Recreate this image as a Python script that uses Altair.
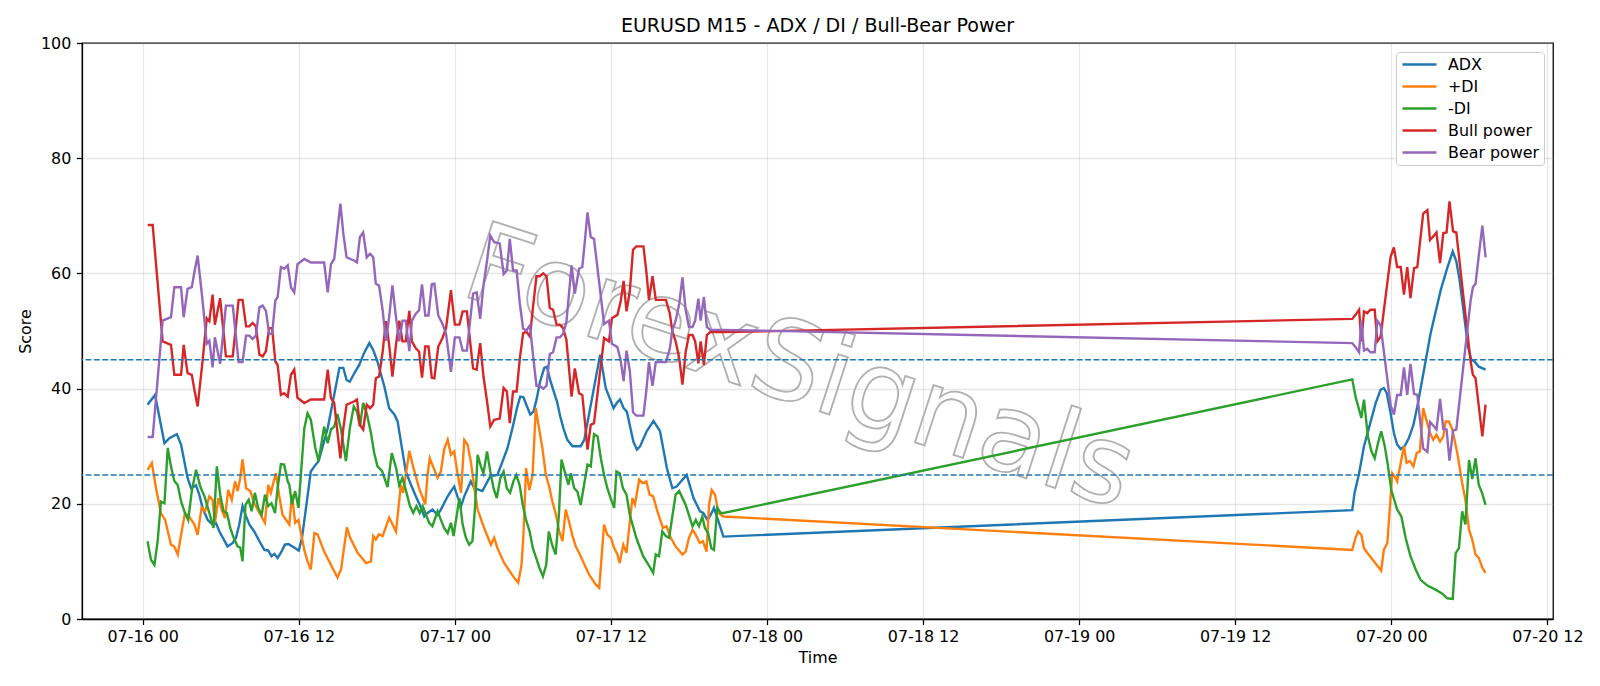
import altair as alt
import pandas as pd

BASE = pd.Timestamp("2025-07-16 00:00")
SERIES = ["ADX", "+DI", "-DI", "Bull power", "Bear power"]
COLORS = ["#1f77b4", "#ff7f0e", "#2ca02c", "#d62728", "#9467bd"]
LEVELS = [25, 45]
TITLE = "EURUSD M15 - ADX / DI / Bull-Bear Power"
WATERMARK = "ForexSignals"

# positions are in 15-minute bars counted from 07-16 00:00
adx_q = [1.5, 3.8, 6.7, 8.2, 10.5, 11.8, 12.8, 13.8, 14.9, 16.4, 17.4, 18.4, 20.0, 21.5, 22.5, 23.6, 26.1, 27.7, 28.7, 29.7,
         30.7, 31.8, 32.8, 34.3, 35.9, 37.4, 38.6, 39.6, 40.5, 41.5, 42.5, 43.7, 44.8, 46.1, 48.0, 49.0, 51.7, 52.8, 54.1, 56.9,
         60.5, 61.7, 62.7, 63.7, 65.1, 66.6, 68.1, 69.7, 70.9, 72.2, 74.3, 75.8, 77.4, 78.4, 79.4, 80.9, 82.5, 84.0, 85.6, 86.6,
         87.6, 89.1, 90.7, 91.7, 93.8, 94.8, 95.8, 96.8, 97.9, 98.9, 100.9, 102.0, 104.5, 105.5, 106.9, 109.1, 110.7, 112.2, 113.7, 115.1,
         116.1, 117.1, 118.2, 119.2, 120.2, 121.2, 122.2, 123.5, 124.3, 125.3, 126.4, 127.4, 128.4, 129.4, 130.6, 132.2, 134.7, 135.8, 140.7, 142.4,
         144.8, 145.8, 146.8, 147.9, 148.9, 150.9, 152.0, 153.0, 155.0, 157.1, 159.1, 161.2, 162.9, 164.2, 167.3, 169.4, 171.4, 172.4, 173.7, 174.7,
         175.7, 178.6,
         372.0, 372.7, 374.1, 375.6, 377.1, 379.2, 380.7, 381.7, 382.6, 383.8, 384.8, 385.8, 386.9, 388.1, 389.4, 390.8, 392.0, 393.5, 396.1, 399.2,
         401.2, 402.9, 404.0, 405.0, 406.3, 407.6, 408.6, 409.6, 410.9, 413.0]
adx_v = [37.2, 38.9, 30.5, 31.4, 32.1, 30.3, 27.4, 24.5, 22.7, 23.2, 21.6, 19.3, 17.2, 16.4, 16.7, 15.2, 12.6, 13.2, 14.1, 16.4,
         19.6, 17.8, 16.4, 15.2, 13.5, 12.0, 11.9, 10.9, 11.3, 10.6, 11.5, 12.9, 13.0, 12.6, 11.9, 14.1, 25.6, 26.5, 27.4, 33.1,
         43.6, 43.6, 41.5, 41.2, 42.7, 44.1, 46.2, 47.9, 46.7, 44.7, 40.4, 36.6, 35.5, 34.3, 30.8, 25.6, 23.3, 21.3, 19.3, 17.8,
         18.4, 19.0, 18.1, 19.0, 21.3, 22.2, 23.0, 21.3, 19.6, 21.3, 23.9, 22.7, 22.2, 23.3, 24.8, 25.0, 27.4, 29.7, 33.1, 36.6,
         38.6, 38.5, 36.9, 35.5, 36.0, 38.3, 41.2, 43.6, 43.8, 41.5, 39.5, 37.8, 35.2, 33.1, 31.1, 30.0, 30.0, 31.1, 45.9, 40.1,
         36.6, 37.5, 38.1, 36.6, 36.0, 30.8, 29.4, 30.0, 32.6, 34.4, 32.6, 26.2, 22.7, 23.0, 25.0, 21.0, 18.7, 18.4, 17.2, 18.1,
         19.3, 14.3,
         18.9, 21.9, 25.3, 30.0, 33.1, 37.5, 39.8, 40.1, 39.2, 35.7, 32.3, 30.3, 29.5, 30.0, 31.4, 33.7, 36.9, 41.5, 49.6, 57.1,
         60.9, 63.8, 62.1, 58.9, 53.1, 47.3, 45.0, 44.7, 43.8, 43.3]

pdi_q = [1.5, 2.8, 4.1, 5.6, 6.9, 8.7, 9.7, 10.8, 11.8, 13.0, 14.3, 15.9, 16.9, 18.1, 19.2, 20.5, 21.5, 22.2, 23.3, 24.3,
         25.3, 26.3, 27.4, 28.4, 29.2, 30.0, 30.7, 31.8, 33.1, 34.3, 35.9, 37.6, 38.6, 39.4, 40.3, 41.0, 42.0, 43.0, 45.1, 45.9,
         46.9, 47.9, 49.7, 50.7, 51.7, 52.8, 53.8, 55.8, 57.9, 59.9, 61.0, 62.8, 63.8, 66.1, 68.7, 70.2, 70.9, 71.7, 72.7, 73.8,
         75.8, 77.9, 79.4, 80.1, 82.0, 83.0, 85.0, 86.9, 87.6, 88.3, 89.7, 90.7, 91.7, 92.7, 93.8, 94.8, 95.8, 96.8, 97.9, 98.9,
         99.9, 100.9, 102.0, 103.0, 105.0, 107.1, 108.1, 109.1, 111.2, 114.3, 115.5, 116.5, 117.1, 117.9, 118.9, 119.9, 120.9, 121.9, 122.9, 124.0,
         125.0, 126.0, 127.1, 128.1, 129.1, 130.1, 131.2, 132.2, 133.2, 134.2, 137.3, 139.3, 140.4, 141.9, 142.9, 144.0, 145.0, 146.0, 146.7, 147.8,
         148.8, 150.6, 151.4, 152.7, 153.7, 154.9, 155.9, 157.0, 158.3, 160.0, 161.1, 162.4, 163.9, 166.0, 167.0, 168.0, 169.1, 170.1, 171.3, 172.3,
         173.4, 174.2, 175.0, 176.0, 177.1, 178.6,
         372.0, 373.0, 373.8, 374.8, 375.6, 376.6, 378.7, 380.9, 381.7, 382.8, 384.3, 385.0, 385.8, 386.9, 387.9, 388.7, 389.7, 390.8, 391.8, 392.8,
         393.8, 394.9, 395.9, 396.9, 397.9, 399.0, 400.0, 400.7, 401.7, 402.8, 404.3, 405.8, 406.8, 407.9, 408.9, 409.9, 410.9, 412.0, 413.0]
pdi_v = [25.9, 27.1, 22.7, 18.4, 17.2, 12.9, 12.6, 11.2, 14.6, 18.4, 17.8, 16.4, 14.6, 19.3, 18.7, 21.3, 20.7, 16.7, 21.0, 19.0,
         17.5, 22.4, 20.7, 23.9, 22.2, 24.5, 27.7, 22.7, 22.2, 20.1, 18.4, 16.7, 23.3, 21.9, 23.9, 25.3, 21.3, 18.1, 16.4, 21.6,
         16.7, 17.2, 12.0, 10.0, 8.6, 14.9, 14.7, 11.7, 9.4, 7.2, 8.6, 15.9, 14.1, 11.5, 9.7, 10.0, 14.4, 13.8, 14.7, 14.4,
         17.6, 15.2, 23.3, 21.9, 29.2, 26.8, 22.7, 19.9, 25.0, 27.9, 25.9, 24.5, 25.6, 29.4, 31.1, 28.5, 29.1, 25.3, 21.9, 31.1,
         30.3, 27.4, 22.7, 19.0, 15.8, 12.9, 14.1, 12.3, 9.7, 7.1, 6.3, 9.4, 14.6, 26.2, 22.4, 25.0, 36.6, 33.1, 29.7, 25.0,
         23.0, 20.4, 18.1, 15.2, 13.5, 19.0, 16.7, 14.4, 12.6, 11.5, 7.7, 6.0, 5.4, 16.4, 14.6, 14.1, 12.3, 11.2, 9.7, 12.9,
         11.5, 21.0, 19.9, 24.2, 23.6, 23.9, 21.6, 21.3, 18.7, 15.8, 16.1, 14.1, 12.6, 11.2, 11.7, 14.1, 15.5, 14.6, 13.2, 13.5,
         11.7, 19.9, 22.4, 21.6, 18.4, 17.8,
         12.0, 14.1, 15.2, 14.6, 12.3, 11.5, 10.0, 8.4, 12.0, 13.2, 25.3, 24.8, 23.9, 27.1, 30.0, 27.1, 27.4, 26.5, 28.8, 29.1,
         36.6, 34.3, 32.3, 31.1, 32.0, 30.8, 31.7, 34.3, 34.3, 32.9, 28.8, 23.6, 20.7, 15.5, 13.8, 11.2, 10.6, 8.9, 8.0]

mdi_q = [1.5, 2.55, 3.6, 4.6, 5.6, 6.7, 7.7, 8.7, 9.7, 10.8, 11.8, 13.0, 14.0, 15.1, 16.4, 17.7, 19.0, 20.5, 21.8, 22.8,
         23.9, 24.9, 25.9, 27.0, 28.0, 29.2, 30.0, 30.7, 31.6, 32.6, 33.5, 34.5, 35.5, 36.6, 37.6, 38.6, 39.6, 40.7, 41.5, 42.5,
         43.5, 44.6, 45.1, 45.9, 46.9, 47.9, 49.7, 50.7, 51.7, 53.1, 54.1, 55.8, 56.9, 57.9, 58.9, 59.9, 61.0, 62.5, 63.7, 64.9,
         65.9, 66.8, 67.8, 68.9, 70.2, 71.2, 72.2, 73.6, 75.3, 76.6, 77.9, 78.9, 79.9, 81.0, 82.2, 83.2, 84.2, 85.2, 86.1, 87.1,
         88.1, 89.1, 90.7, 91.7, 92.7, 93.8, 94.8, 95.6, 97.4, 98.4, 99.4, 100.4, 101.4, 102.2, 103.0, 104.0, 104.8, 105.9, 106.9, 107.9,
         108.9, 110.0, 111.0, 112.0, 113.0, 114.0, 114.9, 115.9, 116.9, 117.9, 119.0, 120.0, 121.0, 122.0, 123.1, 124.1, 124.9, 125.9, 127.0, 128.0,
         128.8, 129.8, 130.9, 131.7, 132.7, 133.7, 134.7, 136.8, 137.8, 138.8, 139.9, 140.9, 141.9, 142.9, 143.9, 145.0, 145.7, 146.7, 147.7, 148.8,
         149.8, 151.8, 153.9, 155.9, 157.0, 157.8, 158.8, 159.8, 160.9, 161.9, 163.9, 165.0, 167.0, 169.1, 170.1, 171.1, 172.1, 172.9, 173.9, 174.9,
         175.7, 176.7, 177.8, 178.6,
         372.0, 373.0, 374.8, 375.6, 376.8, 377.9, 378.9, 379.9, 380.9, 382.0, 383.0, 384.0, 385.8, 387.1, 388.4, 389.9, 391.5, 393.0, 395.1, 397.6,
         399.7, 401.2, 402.9, 403.8, 404.8, 405.8, 406.8, 407.9, 408.9, 409.9, 410.9, 411.9, 413.0]
mdi_v = [13.5, 10.3, 9.4, 13.5, 20.4, 20.1, 29.7, 26.5, 24.0, 23.2, 20.4, 18.4, 17.2, 22.2, 25.9, 23.0, 21.3, 18.4, 15.8, 26.5,
         21.3, 18.7, 18.4, 15.7, 14.1, 12.6, 12.4, 10.0, 19.8, 20.7, 18.7, 21.9, 19.3, 18.1, 21.6, 19.6, 20.1, 18.4, 22.7, 26.9,
         26.8, 23.9, 23.3, 19.9, 22.2, 19.3, 33.1, 35.7, 34.6, 29.7, 27.4, 33.4, 30.5, 32.9, 33.4, 35.6, 32.9, 27.4, 33.1, 36.9,
         36.0, 33.4, 37.5, 35.7, 32.3, 28.8, 26.5, 25.7, 22.9, 28.8, 26.3, 23.2, 24.5, 22.2, 19.6, 18.4, 19.6, 18.4, 19.6, 18.1,
         16.7, 16.1, 18.7, 17.2, 15.8, 14.9, 16.7, 14.4, 21.0, 16.4, 14.1, 12.9, 13.5, 19.3, 28.5, 26.5, 25.3, 29.1, 25.6, 22.7,
         21.0, 24.5, 25.6, 22.7, 21.9, 23.9, 25.0, 23.3, 19.8, 17.2, 15.2, 12.3, 10.6, 8.9, 7.4, 9.4, 15.2, 12.9, 11.2, 18.1,
         27.7, 25.6, 23.3, 25.3, 22.7, 22.1, 19.8, 26.8, 26.5, 32.1, 31.7, 27.9, 25.0, 22.7, 21.0, 19.3, 25.6, 25.3, 22.7, 21.6,
         18.1, 14.1, 10.9, 9.1, 8.0, 11.2, 10.9, 15.2, 14.4, 14.1, 21.6, 22.2, 19.8, 16.1, 17.2, 16.1, 17.8, 15.8, 14.9, 12.3,
         12.0, 19.3, 18.4, 18.4,
         41.6, 38.6, 34.9, 38.1, 31.7, 29.1, 27.9, 30.5, 32.6, 30.0, 26.5, 22.4, 19.0, 17.8, 14.1, 10.9, 8.6, 6.8, 5.8, 5.1,
         4.4, 3.6, 3.5, 11.4, 12.3, 18.7, 16.4, 27.6, 24.3, 27.9, 23.3, 21.9, 19.8]

power_q = [1.53, 3.07, 6.14, 8.7, 9.73, 11.8, 12.6, 13.8, 15.1, 15.9, 16.9, 18.4, 19.7, 20.5, 21.5, 22.2, 23.8, 25.6, 27.7, 29.5,
           30.7, 31.8, 32.8, 33.8, 34.8, 35.9, 36.9, 37.9, 38.9, 39.8, 40.8, 41.5, 42.5, 43.5, 44.6, 45.6,
           46.6, 47.6, 49.7, 51.7, 55.8, 56.9, 57.9, 58.9, 60.8, 61.7, 62.7, 65.1, 65.9, 66.8, 67.8, 68.9, 69.9, 70.9, 71.7, 72.7,
           73.8, 74.8, 75.8, 76.8, 77.9, 78.9, 79.9, 80.9, 82.0, 82.8, 84.0, 85.0, 85.9, 86.9, 87.9, 88.9,
           89.7, 90.9, 92.2, 93.3, 94.8, 96.0, 97.4, 98.4, 99.7, 100.7, 101.6, 102.7, 103.8, 104.8, 105.9, 106.9, 108.1, 109.8, 111.0, 112.0,
           112.9, 113.9, 115.0, 116.0, 117.0, 118.0, 119.1, 120.1, 121.1, 122.1, 123.2, 124.2, 125.2, 126.2, 127.3, 128.3, 129.3, 130.3, 131.9, 132.9,
           134.2, 135.2, 136.0, 136.8, 137.8, 138.8, 141.9, 143.4, 144.3, 146.0, 147.0, 147.9, 148.8, 149.8, 150.8, 151.8, 154.0, 154.9, 155.7, 156.8,
           157.8, 160.9, 162.1, 162.9, 163.9, 165.0, 166.0, 167.0, 168.0, 169.1, 169.9, 170.9, 171.6, 172.6, 173.5, 174.5, 178.6,
           372.0, 373.0, 374.1, 374.8, 375.6, 376.6, 377.6, 378.9, 379.7, 380.7, 383.8, 384.8, 385.8, 386.9, 387.9, 388.9, 389.9, 391.0, 392.0, 393.8,
           395.1, 395.9, 396.9, 397.9, 399.0, 400.0, 401.0, 401.9, 403.0, 404.0, 408.4, 409.1, 409.9, 412.0, 413.0]
bull_v = [68.4, 68.4, 48.2, 47.6, 42.4, 42.4, 47.6, 42.7, 42.4, 39.8, 36.9, 44.7, 52.2, 51.7, 56.3, 51.1, 55.7, 45.6, 45.6, 55.4,
          55.4, 50.8, 50.8, 51.4, 50.8, 45.9, 45.6, 46.5, 50.5, 50.5, 44.7, 44.1, 38.9, 39.2, 38.6, 42.4,
          43.3, 38.4, 37.5, 38.1, 38.1, 43.3, 38.4, 37.5, 27.9, 33.1, 37.2, 37.8, 38.1, 33.7, 32.9, 37.2, 36.6, 37.2, 41.8, 42.1,
          46.4, 51.7, 47.6, 42.1, 47.6, 51.8, 48.2, 48.2, 53.5, 48.2, 47.0, 46.4, 41.9, 47.3, 47.3, 41.9,
          41.8, 47.3, 48.8, 50.5, 57.1, 51.1, 51.1, 53.4, 53.4, 48.2, 43.5, 43.3, 47.9, 42.1, 37.8, 33.4, 34.6, 34.8, 40.1, 39.5,
          34.0, 39.5, 39.5, 45.3, 49.6, 49.9, 49.0, 54.5, 59.5, 59.5, 60.0, 59.5, 54.0, 53.7, 51.1, 51.1, 50.5, 48.5, 38.6, 43.5,
          39.2, 38.9, 34.3, 29.4, 33.7, 34.0, 48.8, 48.2, 52.2, 52.8, 55.1, 58.7, 53.4, 56.9, 64.1, 64.7, 64.7, 60.3, 55.4, 59.5,
          55.4, 55.4, 53.1, 49.9, 48.2, 45.3, 40.7, 46.4, 49.3, 49.3, 48.2, 44.4, 48.2, 44.1, 49.3, 49.8, 49.8,
          52.1, 52.8, 53.7, 48.2, 53.4, 53.1, 53.7, 53.7, 48.2, 49.0, 62.9, 64.5, 61.1, 61.1, 56.3, 61.1, 55.7, 60.9, 61.1, 70.4,
          71.0, 65.8, 66.4, 67.1, 61.8, 67.0, 67.1, 72.5, 67.3, 67.1, 44.7, 42.4, 41.8, 31.7, 37.2]
bear_v = [31.6, 31.6, 51.8, 52.4, 57.6, 57.6, 52.4, 57.3, 57.6, 60.2, 63.1, 55.3, 47.8, 48.3, 43.7, 48.9, 44.3, 54.4, 54.4, 44.6,
          44.6, 49.2, 49.2, 48.6, 49.2, 54.1, 54.4, 53.5, 49.5, 49.5, 55.3, 55.9, 61.1, 60.8, 61.4, 57.6,
          56.7, 61.6, 62.5, 61.9, 61.9, 56.7, 61.6, 62.5, 72.1, 66.9, 62.8, 62.2, 61.9, 66.3, 67.1, 62.8, 63.4, 62.8, 58.2, 57.9,
          53.6, 48.3, 52.4, 57.9, 52.4, 48.2, 51.8, 51.8, 46.5, 51.8, 53.0, 53.6, 58.1, 52.7, 52.7, 58.1,
          58.2, 52.7, 51.2, 49.5, 42.9, 48.9, 48.9, 46.6, 46.6, 51.8, 56.5, 56.7, 52.1, 57.9, 62.2, 66.6, 65.4, 65.2, 59.9, 60.5,
          66.0, 60.5, 60.5, 54.7, 50.4, 50.1, 51.0, 45.5, 40.5, 40.5, 40.0, 40.5, 46.0, 46.3, 48.9, 48.9, 49.5, 51.5, 61.4, 56.5,
          60.8, 61.1, 65.7, 70.6, 66.3, 66.0, 51.2, 51.8, 47.8, 47.2, 44.9, 41.3, 46.6, 43.1, 35.9, 35.3, 35.3, 39.7, 44.6, 40.5,
          44.6, 44.6, 46.9, 50.1, 51.8, 54.7, 59.3, 53.6, 50.7, 50.7, 51.8, 55.6, 51.8, 55.9, 50.7, 50.2, 50.2,
          47.9, 47.2, 46.3, 51.8, 46.6, 46.9, 46.3, 46.3, 51.8, 51.0, 37.1, 35.5, 38.9, 38.9, 43.7, 38.9, 44.3, 39.1, 38.9, 29.6,
          29.0, 34.2, 33.6, 32.9, 38.2, 33.0, 32.9, 27.5, 32.7, 32.9, 55.3, 57.6, 58.2, 68.3, 62.8]


def frame(name, q, v):
    times = BASE + pd.to_timedelta([x * 15.0 for x in q], unit="min")
    return pd.DataFrame({"time": times, "value": v, "series": name})


df = pd.concat([
    frame("ADX", adx_q, adx_v),
    frame("+DI", pdi_q, pdi_v),
    frame("-DI", mdi_q, mdi_v),
    frame("Bull power", power_q, bull_v),
    frame("Bear power", power_q, bear_v),
], ignore_index=True)

tick_values = [alt.DateTime(year=2025, month=7, date=d, hours=h)
               for d in [16, 17, 18, 19, 20] for h in [0, 12]]
x_domain = [alt.DateTime(year=2025, month=7, date=15, hours=19, minutes=20),
            alt.DateTime(year=2025, month=7, date=20, hours=12, minutes=26)]

FS = 15.9

x_enc = alt.X("time:T", title="Time",
              scale=alt.Scale(domain=x_domain),
              axis=alt.Axis(values=tick_values, format="%m-%d %H", labelAngle=0,
                            grid=True, labelPadding=4.3, titlePadding=4.4))
y_enc = alt.Y("value:Q", title="Score",
              scale=alt.Scale(domain=[0, 100], nice=False, zero=True),
              axis=alt.Axis(values=[0, 20, 40, 60, 80, 100], grid=True,
                            labelPadding=5.6, titlePadding=7))

watermark = alt.Chart(pd.DataFrame({"t": [WATERMARK]})).mark_text(
    font="DejaVu Sans", fontSize=110, angle=18, align="center", baseline="middle",
    fill="transparent", stroke="#b0b0b0", strokeWidth=1.8
).encode(text="t:N", x=alt.value(717), y=alt.value(327))

lines = alt.Chart(df).mark_line(strokeWidth=2.4, clip=True).encode(
    x=x_enc,
    y=y_enc,
    color=alt.Color("series:N",
                    scale=alt.Scale(domain=SERIES, range=COLORS),
                    legend=alt.Legend(title=None, orient="none", legendX=1314, legendY=9,
                                      direction="vertical",
                                      symbolType="M-2.43,0H2.43", symbolSize=196,
                                      symbolStrokeWidth=2.4, symbolOffset=11,
                                      labelFont="DejaVu Sans", labelFontSize=FS,
                                      labelColor="black", labelOffset=20,
                                      padding=4, rowPadding=5,
                                      strokeColor="#cccccc", fillColor="rgba(255,255,255,0.85)",
                                      cornerRadius=3)),
)

rules = alt.Chart(pd.DataFrame({"value": LEVELS})).mark_rule(
    color="#1f77b4", strokeWidth=1.6, strokeDash=[5.9, 2.5]
).encode(y=alt.Y("value:Q", title="Score"))

chart = alt.layer(watermark, lines, rules).properties(
    width=1471, height=576,
    title=alt.TitleParams(TITLE, font="DejaVu Sans", fontSize=19.05, fontWeight="normal",
                          color="black", anchor="middle", offset=-1.5),
    autosize=alt.AutoSizeParams(type="none"),
    padding={"left": 82, "top": 43, "right": 47, "bottom": 67},
).configure_view(
    stroke="black", strokeWidth=1.27
).configure_axis(
    labelFont="DejaVu Sans", labelFontSize=FS, labelColor="black",
    titleFont="DejaVu Sans", titleFontSize=FS, titleFontWeight="normal", titleColor="black",
    tickColor="black", tickSize=5.6, tickWidth=1.27, domainColor="black", domainWidth=1.27,
    gridColor="#b0b0b0", gridOpacity=0.3, gridWidth=1.27
)

chart.save("out.html", embed_options={"renderer": "svg", "actions": False})
